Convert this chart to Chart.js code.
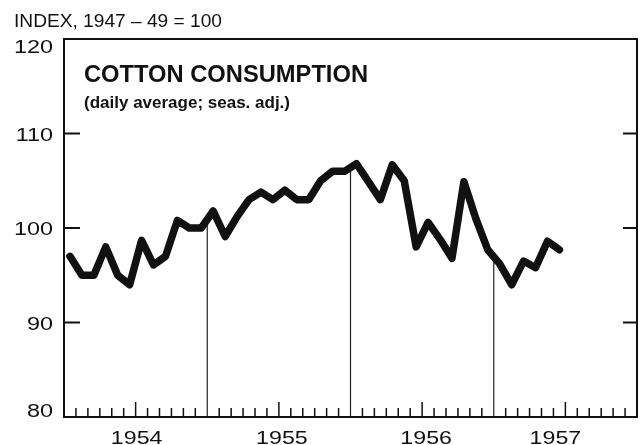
<!DOCTYPE html>
<html><head><meta charset="utf-8">
<script src="https://cdn.jsdelivr.net/npm/chart.js@4"></script>
<style>html,body{margin:0;padding:0;background:#fff}#wrap{width:640px;height:445px;position:relative}</style>
</head><body><div id="wrap"><canvas id="c" width="640" height="445"></canvas></div>
<script>
// Monthly index, Jan 1954 .. Jun 1957
const monthIndex = [0,1,2,3,4,5,6,7,8,9,10,11,12,13,14,15,16,17,18,19,20,21,22,23,24,25,26,27,28,29,30,31,32,33,34,35,36,37,38,39,40,41];
const consumption = [97,95,95,98,95,94,98.7,96.1,97,100.8,100,100,101.8,99.1,101.2,103,103.8,103,104,103,103,105,106,106,106.8,104.9,103,106.7,105,98,100.6,98.8,96.8,104.9,101,97.7,96.2,94,96.5,95.8,98.6,97.7];
const yearLabels = ['1954','1955','1956','1957'];
const yTickValues = [80,90,100,110,120];
const yTickLabels = ['80','90','100','110','120'];
const headerText = 'INDEX, 1947 \u2013 49 = 100';
const titleText = 'COTTON CONSUMPTION';
const subtitleText = '(daily average; seas. adj.)';

const FONT = '"Liberation Sans", Arial, sans-serif';
const yearNudge = [1, 3, 4, -10];

function fitText(ctx, text, x, y, targetW, font, align) {
  ctx.save();
  ctx.font = font;
  const w = ctx.measureText(text).width;
  const s = targetW / w;
  let x0 = x;
  if (align === 'right') x0 = x - targetW;
  if (align === 'center') x0 = x - targetW / 2;
  ctx.translate(x0, y);
  ctx.scale(s, 1);
  ctx.textAlign = 'left';
  ctx.textBaseline = 'alphabetic';
  ctx.fillText(text, 0, 0);
  ctx.restore();
}
function scaledText(ctx, text, x, y, sx, font, align) {
  ctx.save();
  ctx.font = font;
  const w = ctx.measureText(text).width * sx;
  fitText(ctx, text, x, y, w, font, align);
  ctx.restore();
}

const deco = {
  id: 'deco',
  beforeDatasetsDraw(chart) {
    const {ctx, chartArea: a, scales: {x, y}} = chart;
    ctx.save();
    ctx.strokeStyle = '#222';
    ctx.lineWidth = 1.2;
    [12,24,36].forEach(m => {
      const v = (consumption[m-1] + consumption[m]) / 2;
      const px = x.getPixelForValue(m);
      ctx.beginPath();
      ctx.moveTo(px, a.bottom);
      ctx.lineTo(px, y.getPixelForValue(v));
      ctx.stroke();
    });
    ctx.restore();
  },
  afterDatasetsDraw(chart) {
    const {ctx, chartArea: a, scales: {x, y}} = chart;
    ctx.save();
    ctx.strokeStyle = '#111';
    ctx.fillStyle = '#111';
    ctx.lineWidth = 2;
    ctx.beginPath();
    ctx.moveTo(a.left, a.top); ctx.lineTo(a.right, a.top);
    ctx.lineTo(a.right, a.bottom); ctx.lineTo(a.left, a.bottom); ctx.closePath();
    ctx.stroke();
    ctx.lineWidth = 1.8;
    [90,100,110].forEach(v => {
      const py = y.getPixelForValue(v);
      ctx.beginPath();
      ctx.moveTo(a.left, py); ctx.lineTo(a.left + 16, py);
      ctx.moveTo(a.right, py); ctx.lineTo(a.right - 14, py);
      ctx.stroke();
    });
    ctx.lineWidth = 1.5;
    for (let m = 1; m < 48; m++) {
      if (m % 12 === 0) continue;
      const px = x.getPixelForValue(m);
      const len = (m % 12 === 6) ? 15 : 9;
      ctx.beginPath();
      ctx.moveTo(px, a.bottom); ctx.lineTo(px, a.bottom - len);
      ctx.stroke();
    }
    yTickValues.forEach((v, i) => {
      const py = y.getPixelForValue(v);
      let base = py + 7;
      if (i === yTickValues.length - 1) base = py + 14;
      if (i === 0) base = py;
      scaledText(ctx, yTickLabels[i], 53, base, 1.3, '18px ' + FONT, 'right');
    });
    yearLabels.forEach((t, i) => {
      const px = x.getPixelForValue(i * 12 + 6);
      scaledText(ctx, t, px + yearNudge[i], 444, 1.22, '19px ' + FONT, 'center');
    });
    fitText(ctx, headerText, 14, 27, 208, '18px ' + FONT, 'left');
    fitText(ctx, titleText, 84, 82, 284, 'bold 24px ' + FONT, 'left');
    fitText(ctx, subtitleText, 84, 108, 206, 'bold 16px ' + FONT, 'left');
    ctx.restore();
  }
};

new Chart(document.getElementById('c'), {
  type: 'line',
  data: {
    datasets: [{
      data: monthIndex.map((m, i) => ({x: m + 0.5, y: consumption[i]})),
      borderColor: '#111',
      borderWidth: 7.5,
      borderJoinStyle: 'round',
      borderCapStyle: 'round',
      pointRadius: 0,
      tension: 0,
      fill: false
    }]
  },
  options: {
    responsive: false,
    devicePixelRatio: 1,
    animation: false,
    layout: {padding: {left: 64, right: 3, top: 39, bottom: 28}},
    plugins: {legend: {display: false}, tooltip: {enabled: false}, title: {display: false}},
    scales: {
      x: {type: 'linear', min: 0, max: 48, display: false},
      y: {type: 'linear', min: 80, max: 120, display: false}
    }
  },
  plugins: [deco]
});
</script>
</body></html>
